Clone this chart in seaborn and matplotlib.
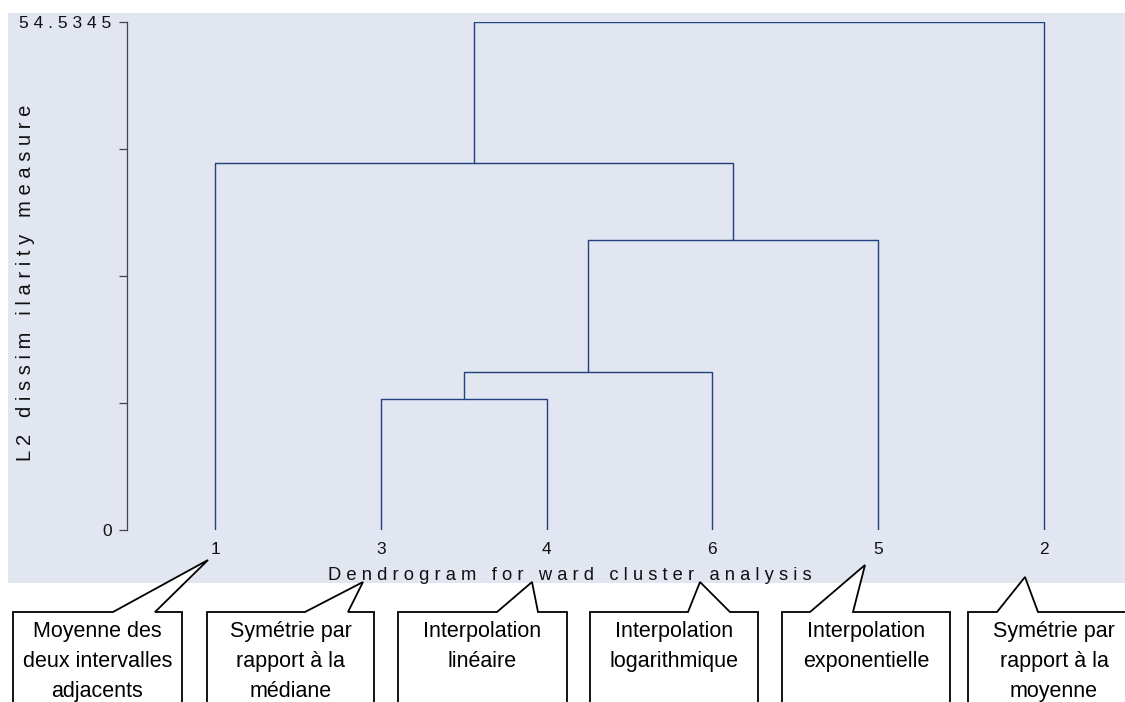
import numpy as np
import pandas as pd
import seaborn as sns
import matplotlib.pyplot as plt
from matplotlib.patches import Rectangle, Polygon

# leaves in dendrogram order and the ward merges (left, right, height)
leaf_order = ['1', '3', '4', '6', '5', '2']
merge_left = ['3', '34', '346', '1', '13465']
merge_right = ['4', '6', '5', '3465', '2']
merge_height = [14.06, 16.96, 31.13, 39.40, 54.5345]
y_max = 54.5345

callout_text = [
    "Moyenne des\ndeux intervalles\nadjacents",
    "Symétrie par\nrapport à la\nmédiane",
    "Interpolation\nlinéaire",
    "Interpolation\nlogarithmique",
    "Interpolation\nexponentielle",
    "Symétrie par\nrapport à la\nmoyenne",
]

# callout geometry in pixels: box left/right, pointer base left/right, tip x/y
callout_geom = [
    (13, 182, 113, 155, 208, 560),
    (207, 374, 305, 348, 363, 582),
    (398, 567, 497, 538, 532, 582),
    (590, 758, 688, 730, 700, 582),
    (782, 950, 810, 853, 865, 565),
    (968, 1140, 997, 1038, 1025, 577),
]


def spaced(s):
    return ' '.join(s)


# build the U-shaped links
pos = {k: (float(i), 0.0) for i, k in enumerate(leaf_order)}
rows = []
for i, (a, b, h) in enumerate(zip(merge_left, merge_right, merge_height)):
    xa, ya = pos[a]
    xb, yb = pos[b]
    for x, y in [(xa, ya), (xa, h), (xb, h), (xb, yb)]:
        rows.append({'link': i, 'x': x, 'y': y})
    pos[a + b] = ((xa + xb) / 2, h)
links = pd.DataFrame(rows)

sns.set_theme(style='white')
plt.rcParams['font.family'] = ['Liberation Sans', 'DejaVu Sans']

W, H = 1125, 702
fig = plt.figure(figsize=(W / 100, H / 100), dpi=100)
fig.patch.set_facecolor('white')
fig.patches.append(Rectangle((8 / W, 1 - 583 / H), (W - 8) / W, (583 - 13) / H,
                             transform=fig.transFigure, facecolor='#e1e6f0',
                             edgecolor='none', zorder=-10))

ax_l, ax_r, ax_t, ax_b = 127, 1110, 22, 530
ax = fig.add_axes([ax_l / W, 1 - ax_b / H, (ax_r - ax_l) / W, (ax_b - ax_t) / H],
                  zorder=2)
ax.set_facecolor('none')

sns.lineplot(data=links, x='x', y='y', units='link', estimator=None, sort=False,
             color='#23407e', linewidth=1.0, ax=ax)

step = (1044 - 215) / 5
ax.set_xlim(-(215 - ax_l) / step, 5 + (ax_r - 1044) / step)
ax.set_ylim(0, y_max)

for s in ['top', 'right', 'bottom']:
    ax.spines[s].set_visible(False)
ax.spines['left'].set_color('#444444')
ax.spines['left'].set_linewidth(0.9)

ax.set_yticks(np.linspace(0, y_max, 5))
ax.set_yticklabels([spaced('0'), '', '', '', spaced('54.5345')])
ax.tick_params(axis='y', left=True, length=6, width=0.9, color='#444444',
               pad=5, labelsize=12.5, labelcolor='#111111')
ax.set_xticks(range(len(leaf_order)))
ax.set_xticklabels(leaf_order)
ax.tick_params(axis='x', bottom=False, length=0, pad=9, labelsize=12.5,
               labelcolor='#111111')

ax.set_ylabel(spaced('L2 dissim ilarity measure'), fontsize=14.5, color='#111111')
ax.yaxis.set_label_coords((35 - ax_l) / (ax_r - ax_l), (ax_b - 283) / (ax_b - ax_t))
ax.set_xlabel(spaced('Dendrogram for ward cluster analysis'), fontsize=13.2,
              color='#111111')
ax.xaxis.set_label_coords((570 - ax_l) / (ax_r - ax_l), (ax_b - 567) / (ax_b - ax_t))

# callout boxes in pixel coordinates
ov = fig.add_axes([0, 0, 1, 1], zorder=5)
ov.set_xlim(0, W)
ov.set_ylim(H, 0)
ov.axis('off')
ov.patch.set_alpha(0)

top, bottom = 612, 720
for text, (l, r, b1, b2, tx, ty) in zip(callout_text, callout_geom):
    pts = [(l, top), (b1, top), (tx, ty), (b2, top), (r, top), (r, bottom), (l, bottom)]
    ov.add_patch(Polygon(pts, closed=True, facecolor='white', edgecolor='black',
                         linewidth=1.3, joinstyle='miter'))
    ov.text((l + r) / 2, 621, text, ha='center', va='top', fontsize=15.5,
            linespacing=1.55, color='black')

fig.savefig('out.png', dpi=100)
